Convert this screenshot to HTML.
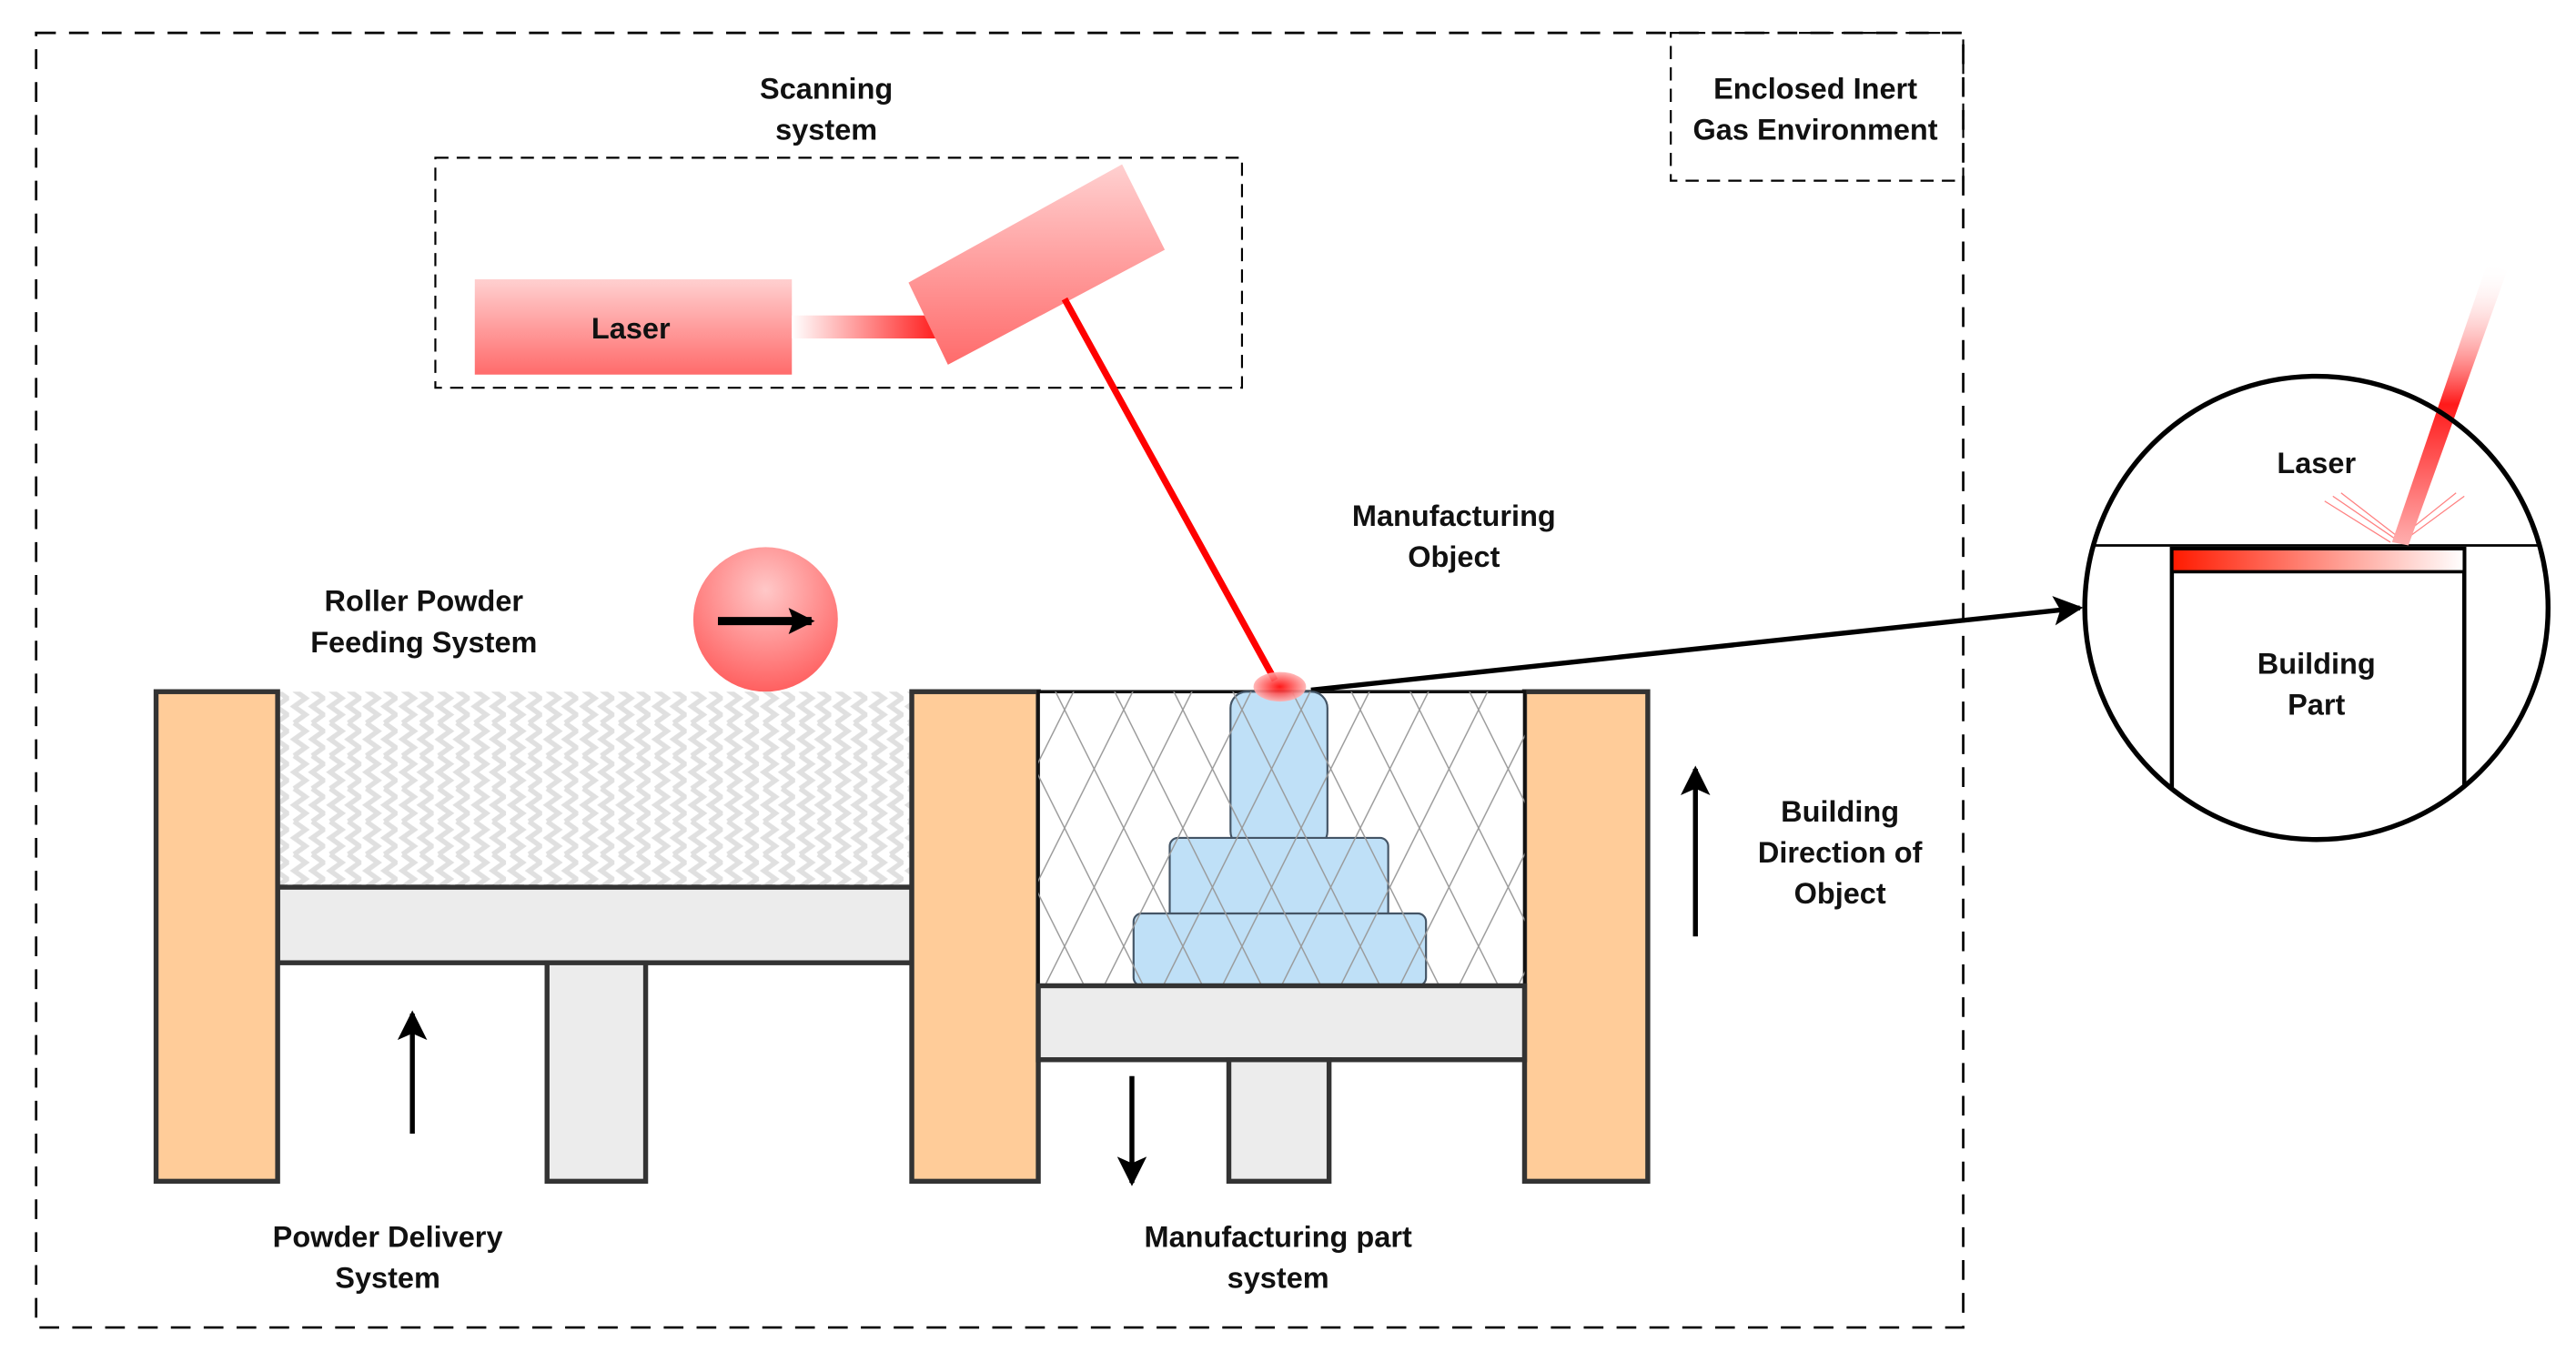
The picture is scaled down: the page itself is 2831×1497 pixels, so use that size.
<!DOCTYPE html>
<html><head><meta charset="utf-8"><style>
html,body{margin:0;padding:0;background:#fff;}
svg{display:block;}
text{font-family:"Liberation Sans",sans-serif;font-weight:bold;font-size:18px;fill:#111;text-anchor:middle;}
</style></head><body>
<svg width="2831" height="1497" viewBox="0 0 1568 829" preserveAspectRatio="none" xmlns="http://www.w3.org/2000/svg">
<defs>
<linearGradient id="pk" x1="0" y1="0" x2="0" y2="1"><stop offset="0" stop-color="#ffd0d0"/><stop offset="1" stop-color="#ff6b6b"/></linearGradient>
<linearGradient id="beam" x1="0" y1="0" x2="1" y2="0"><stop offset="0" stop-color="#fff"/><stop offset="1" stop-color="#ff1a1a"/></linearGradient>
<linearGradient id="bar" x1="0" y1="0" x2="1" y2="0"><stop offset="0" stop-color="#ff1a00"/><stop offset="1" stop-color="#fff"/></linearGradient>
<linearGradient id="streak" x1="0" y1="0" x2="0" y2="1"><stop offset="0" stop-color="#fff" stop-opacity="0"/><stop offset="0.5" stop-color="#ff1a1a"/><stop offset="1" stop-color="#ffb0b0"/></linearGradient>
<radialGradient id="glow"><stop offset="0" stop-color="#ff0000"/><stop offset="1" stop-color="#ffb0b0"/></radialGradient>
<radialGradient id="roll" cx="0.5" cy="0.3" r="0.7"><stop offset="0" stop-color="#ffc8c8"/><stop offset="1" stop-color="#ff6060"/></radialGradient>
<pattern id="zig" width="22" height="20" patternUnits="userSpaceOnUse"><path d="M3 0 L10 5 L3 10 L10 15 L3 20 M14 0 L21 5 L14 10 L21 15 L14 20" fill="none" stroke="#e0e0e0" stroke-width="3"/></pattern>
<pattern id="hatch" width="36" height="72" patternUnits="userSpaceOnUse"><path d="M0 0 L36 72 M36 0 L0 72" stroke="#999" stroke-width="0.8" fill="none"/></pattern>
<marker id="ah" markerWidth="16" markerHeight="16" refX="14" refY="8" orient="auto" markerUnits="userSpaceOnUse"><path d="M0 0 L16 8 L0 16 L3 8 Z" fill="#000"/></marker>
<marker id="ah2" markerWidth="18" markerHeight="18" refX="16" refY="9" orient="auto" markerUnits="userSpaceOnUse"><path d="M0 0 L18 9 L0 18 L4 9 Z" fill="#000"/></marker>
<clipPath id="cc"><circle cx="1410" cy="370" r="141"/></clipPath>
</defs>
<rect x="22" y="20" width="1173" height="788" fill="none" stroke="#000" stroke-width="1.5" stroke-dasharray="12,8"/>
<rect x="1017" y="20" width="178" height="90" fill="none" stroke="#000" stroke-width="1.2" stroke-dasharray="8,5"/>
<text x="1105" y="60">Enclosed Inert</text><text x="1105" y="85">Gas Environment</text>
<text x="503" y="60">Scanning</text><text x="503" y="85">system</text>
<rect x="265" y="96" width="491" height="140" fill="none" stroke="#000" stroke-width="1.2" stroke-dasharray="8,5"/>
<rect x="289" y="170" width="193" height="58" fill="url(#pk)"/>
<text x="384" y="206">Laser</text>
<rect x="482" y="192" width="90" height="14" fill="url(#beam)"/>
<polygon points="553,172 683,100 709,152 577,222" fill="url(#pk)"/>
<line x1="648" y1="182" x2="776" y2="414" stroke="#ff0000" stroke-width="4"/>
<line x1="798" y1="420" x2="1266" y2="370" stroke="#000" stroke-width="3" marker-end="url(#ah2)"/>
<text x="885" y="320">Manufacturing</text><text x="885" y="345">Object</text>
<g clip-path="url(#cc)">
<line x1="1260" y1="332" x2="1560" y2="332" stroke="#000" stroke-width="1.5"/>
<rect x="1322" y="334" width="178" height="200" fill="#fff" stroke="#000" stroke-width="2.5"/>
<rect x="1322" y="334" width="178" height="14" fill="url(#bar)" stroke="#000" stroke-width="2"/>
<g stroke="#ff8080" stroke-width="0.7"><line x1="1415" y1="305" x2="1455" y2="330"/><line x1="1420" y1="302" x2="1458" y2="328"/><line x1="1425" y1="300" x2="1460" y2="327"/><line x1="1500" y1="302" x2="1462" y2="330"/><line x1="1495" y1="300" x2="1460" y2="328"/></g>
</g>
<polygon points="1514,160 1526,165 1466,332 1456,330" fill="url(#streak)"/>
<circle cx="1410" cy="370" r="141" fill="none" stroke="#000" stroke-width="3"/>
<text x="1410" y="288">Laser</text>
<text x="1410" y="410">Building</text><text x="1410" y="435">Part</text>
<text x="258" y="372">Roller Powder</text><text x="258" y="397">Feeding System</text>
<circle cx="466" cy="377" r="44" fill="url(#roll)"/>
<line x1="437" y1="378" x2="494" y2="378" stroke="#000" stroke-width="5" marker-end="url(#ah)"/>
<rect x="169" y="421" width="386" height="119" fill="url(#zig)"/>
<line x1="169" y1="540" x2="555" y2="540" stroke="#333" stroke-width="3" stroke-dasharray="6,3"/>
<rect x="169" y="540" width="386" height="46" fill="#ececec" stroke="#333" stroke-width="3"/>
<rect x="333" y="586" width="60" height="133" fill="#ececec" stroke="#333" stroke-width="3"/>
<rect x="95" y="421" width="74" height="298" fill="#ffcc99" stroke="#333" stroke-width="3"/>
<rect x="555" y="421" width="77" height="298" fill="#ffcc99" stroke="#333" stroke-width="3"/>
<rect x="928" y="421" width="75" height="298" fill="#ffcc99" stroke="#333" stroke-width="3"/>
<line x1="251" y1="690" x2="251" y2="617" stroke="#000" stroke-width="3" marker-end="url(#ah2)"/>
<rect x="632" y="421" width="296" height="179" fill="#fff" stroke="#111" stroke-width="2"/>
<rect x="749" y="421" width="59" height="95" rx="10" fill="#bfe0f7" stroke="#456" stroke-width="1.2"/>
<rect x="712" y="510" width="133" height="50" rx="5" fill="#bfe0f7" stroke="#456" stroke-width="1.2"/>
<rect x="690" y="556" width="178" height="44" rx="5" fill="#bfe0f7" stroke="#456" stroke-width="1.2"/>
<rect x="632" y="421" width="296" height="179" fill="url(#hatch)"/>
<rect x="632" y="600" width="296" height="45" fill="#ececec" stroke="#333" stroke-width="3"/>
<rect x="748" y="645" width="61" height="74" fill="#ececec" stroke="#333" stroke-width="3"/>
<ellipse cx="779" cy="418" rx="16" ry="9" fill="url(#glow)" opacity="0.9"/>
<line x1="689" y1="655" x2="689" y2="720" stroke="#000" stroke-width="3" marker-end="url(#ah2)"/>
<line x1="1032" y1="570" x2="1032" y2="468" stroke="#000" stroke-width="3" marker-end="url(#ah2)"/>
<text x="1120" y="500">Building</text><text x="1120" y="525">Direction of</text><text x="1120" y="550">Object</text>
<text x="236" y="759">Powder Delivery</text><text x="236" y="784">System</text>
<text x="778" y="759">Manufacturing part</text><text x="778" y="784">system</text>
</svg>
</body></html>
